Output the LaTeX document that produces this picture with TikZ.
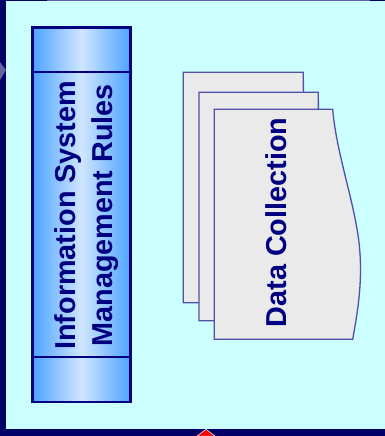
\documentclass[tikz,border=0pt]{standalone}
\usepackage{fontspec}
\setmainfont{Liberation Sans}
\definecolor{navyframe}{RGB}{0,0,102}
\definecolor{cyanbg}{RGB}{204,255,255}
\definecolor{txtnavy}{RGB}{0,0,128}
\definecolor{barblue}{RGB}{77,163,255}
\definecolor{barlight}{RGB}{208,230,255}
\definecolor{pageedge}{RGB}{80,80,168}
\definecolor{pagefill}{RGB}{234,234,234}
\definecolor{topline}{RGB}{93,93,172}
\definecolor{ghost}{RGB}{100,100,160}
\tikzset{
  bigtext/.style={font=\bfseries\fontsize{28.8}{34}\selectfont, text=txtnavy, rotate=90, anchor=base, inner sep=0pt},
  barline/.style={draw=txtnavy, line width=2.6pt},
  pagebox/.style={draw=pageedge, fill=pagefill, line width=1.3pt, line join=miter}
}
\begin{document}
\begin{tikzpicture}[x=1pt,y=-1pt]
\useasboundingbox (0,0) rectangle (385,436);
% background frame
\fill[navyframe] (0,0) rectangle (385,436);
\fill[cyanbg] (6,1) rectangle (385,429);
\fill[topline] (47,0) rectangle (370,1);
\fill[ghost] (0,62) -- (6,70) -- (0,80) -- cycle;
% red marker at bottom
\fill[red, draw=white, line width=0.5pt] (197,436) -- (206,429.3) -- (215,436) -- cycle;
% bar
\shade[left color=barblue, right color=barblue, middle color=barlight] (32.5,27.5) rectangle (130.5,401.8);
\draw[barline] (32.5,27.5) rectangle (130.5,401.8);
\draw[barline, line width=2.2pt] (32.5,72.3) -- (130.5,72.3);
\draw[barline, line width=2.2pt] (32.5,357.3) -- (130.5,357.3);
\node[bigtext] (info) at (75,215.3) {Information System};
\node[bigtext] (mgmt) at (112,215.3) {Management Rules};
% document stack
\draw[pagebox] (183.3,72.3) -- (303.3,72.3) -- (304.5,302.7) -- (183.3,302.7) -- cycle;
\draw[pagebox] (199,92.3) -- (318.3,92.3) -- (319.5,320.7) -- (199,320.7) -- cycle;
\draw[pagebox] (214.3,109.3) -- (332.7,109.3)
  .. controls (336,150) and (352,195) .. (358,235)
  .. controls (364,275) and (358,310) .. (352.7,339.3)
  -- (214.3,339.3) -- cycle;
\node[bigtext] (data) at (286.7,222.5) {Data Collection};
\end{tikzpicture}
\end{document}
